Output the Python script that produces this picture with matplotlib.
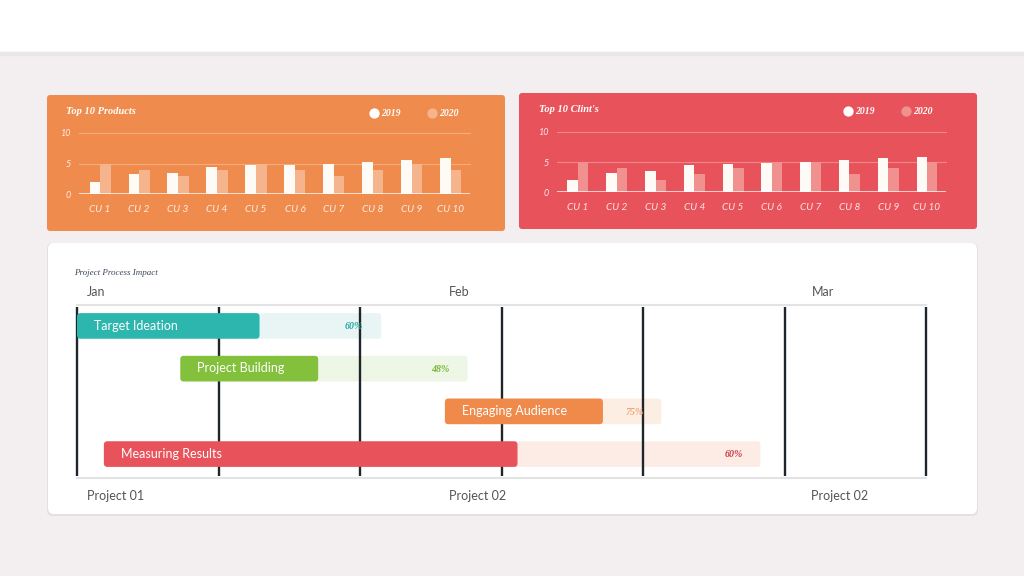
import numpy as np
import matplotlib
matplotlib.use('Agg')
import matplotlib.pyplot as plt
from matplotlib.patches import FancyBboxPatch, Rectangle

# Dữ liệu biểu đồ cột
categories = ['CU 1', 'CU 2', 'CU 3', 'CU 4', 'CU 5', 'CU 6', 'CU 7', 'CU 8', 'CU 9', 'CU 10']
products_2019 = [2.0, 3.2, 3.5, 4.5, 4.7, 4.8, 5.0, 5.3, 5.6, 5.9]
products_2020 = [5, 4, 3, 4, 5, 4, 3, 4, 5, 4]
clients_2019 = [2.0, 3.2, 3.5, 4.5, 4.7, 4.8, 5.0, 5.3, 5.6, 5.9]
clients_2020 = [5, 4, 2, 3, 4, 5, 5, 3, 4, 5]
y_ticks = [0, 5, 10]

# Dữ liệu Gantt
tasks = ['Target Ideation', 'Project Building', 'Engaging Audience', 'Measuring Results']
task_start = [0.0, 0.73, 2.60, 0.19]
task_length = [2.15, 2.03, 1.53, 4.64]
task_done = [0.60, 0.48, 0.73, 0.63]
task_pct_labels = ['60%', '48%', '75%', '60%']
task_colors = ['#2cb6ae', '#83c03b', '#f08a4b', '#e8535b']
task_light = ['#e9f5f5', '#eef6e6', '#fdeee4', '#fdece6']
pct_colors = ['#2aa9a3', '#7ab83a', '#f2a57a', '#c4404a']
months = ['Jan', 'Feb', 'Mar']
month_pos = [0.07, 2.63, 5.19]
bottom_labels = ['Project 01', 'Project 02', 'Project 02']
grid_x = [0, 1, 2, 3, 4, 5, 6]

W, H = 1024, 576
fig = plt.figure(figsize=(W / 100, H / 100), dpi=100)
fig.patch.set_facecolor('#f3eff0')


def fx(x):
    return x / W


def fy(y):
    return 1 - y / H


# Nền (toạ độ pixel)
bg = fig.add_axes([0, 0, 1, 1])
bg.set_xlim(0, W)
bg.set_ylim(H, 0)
bg.axis('off')
bg.add_patch(Rectangle((0, 0), W, 52, color='white', zorder=1))
bg.add_patch(Rectangle((0, 52), W, 3, color='#ebe7e8', zorder=1))
bg.add_patch(FancyBboxPatch((47, 95), 458, 136, boxstyle='round,pad=0,rounding_size=3',
                            fc='#ef8b4c', ec='none'))
bg.add_patch(FancyBboxPatch((519, 93), 458, 136, boxstyle='round,pad=0,rounding_size=3',
                            fc='#e8535b', ec='none'))
bg.add_patch(FancyBboxPatch((47, 243), 931, 273, boxstyle='round,pad=0,rounding_size=6',
                            fc='#e4e0e1', ec='none'))
bg.add_patch(FancyBboxPatch((48, 243), 929, 271, boxstyle='round,pad=0,rounding_size=6',
                            fc='white', ec='none'))


def bar_panel(rect, v2019, v2020, light, title, title_xy, leg_x, leg_y):
    ax = fig.add_axes(rect)
    x = np.arange(len(categories))
    w = 0.27
    ax.bar(x - w / 2, v2019, width=w, color='#fefbf6', zorder=3)
    ax.bar(x + w / 2, v2020, width=w, color=light, zorder=3)
    ax.set_xlim(-0.54, 9.49)
    ax.set_ylim(0, 10)
    ax.set_facecolor('none')
    for s in ax.spines.values():
        s.set_visible(False)
    for v in y_ticks[1:]:
        ax.axhline(v, color='white', alpha=0.3, lw=0.8, zorder=1, clip_on=False)
    ax.axhline(0, color='white', alpha=0.85, lw=1.2, zorder=4)
    ax.set_yticks(y_ticks)
    ax.set_yticklabels(y_ticks, fontsize=6.5, style='italic', color='white', alpha=0.85,
                       family='Lato')
    ax.set_xticks(x)
    ax.set_xticklabels(categories, fontsize=7.2, style='italic', color='white', alpha=0.85,
                       family='Lato')
    ax.tick_params(length=0, axis='y', pad=6)
    ax.tick_params(length=0, axis='x', pad=8)
    fig.text(fx(title_xy[0]), fy(title_xy[1]), title, fontsize=7.5, color='white',
             family='Liberation Serif', weight='bold', style='italic', va='center')
    for i, (lab, col) in enumerate(zip(['2019', '2020'], ['white', light])):
        cx = leg_x + i * 58
        bg.scatter([cx], [leg_y], s=55, color=col, zorder=5, linewidths=0)
        bg.text(cx + 7, leg_y, lab, fontsize=7, color='white', family='Liberation Serif',
                weight='bold', style='italic', va='center')
    return ax


bar_panel([fx(79), fy(194), (470 - 79) / W, 61 / H], products_2019, products_2020,
          '#f5b48b', 'Top 10 Products', (66, 111), 374, 113)
bar_panel([fx(557), fy(192.3), (946 - 557) / W, 60.6 / H], clients_2019, clients_2020,
          '#f0908f', "Top 10 Clint's", (539, 110), 848, 111)

# Biểu đồ Gantt
gx = fig.add_axes([fx(77), fy(478), (926 - 77) / W, (478 - 305) / H])
gx.set_xlim(0, 6)
gx.set_ylim(3.56, -0.49)
gx.set_facecolor('none')
gx.axis('off')
gx.axhline(-0.49, color='#e3e3e3', lw=1.5, clip_on=False, zorder=1)
gx.axhline(3.56, color='#e3e3e3', lw=1.5, clip_on=False, zorder=1)
gx.vlines(grid_x, -0.45, 3.52, color='#1f262b', lw=1.7, zorder=3, clip_on=False)

bh = 0.6
asp = (4.05 / 173) / (6 / 849)
for i, t in enumerate(tasks):
    s, L, d = task_start[i], task_length[i], task_done[i]
    gx.add_patch(FancyBboxPatch((s, i - bh / 2), L, bh,
                                boxstyle='round,pad=0,rounding_size=0.02',
                                mutation_aspect=asp, fc=task_light[i], ec='none', zorder=2))
    gx.add_patch(FancyBboxPatch((s, i - bh / 2), L * d, bh,
                                boxstyle='round,pad=0,rounding_size=0.025',
                                mutation_aspect=asp, fc=task_colors[i], ec='none', zorder=4))
    gx.text(s + 0.12, i - 0.01, t, color='white', fontsize=9, va='center', ha='left',
            family='Lato', zorder=5)
    gx.text(s + L - 0.19, i + 0.02, task_pct_labels[i], color=pct_colors[i], fontsize=7.2,
            va='center', ha='center', family='Liberation Serif', style='italic',
            weight='bold', zorder=5)

for m, p in zip(months, month_pos):
    gx.text(p, -0.79, m, fontsize=9, color='#555555', va='center', ha='left', family='Lato')
for b, p in zip(bottom_labels, month_pos):
    gx.text(p, 3.99, b, fontsize=9, color='#555555', va='center', ha='left', family='Lato')

fig.text(fx(74), fy(273), 'Project Process Impact', fontsize=6.5, color='#3d4a5c',
         family='Liberation Serif', style='italic', va='center')

fig.savefig('out.png', dpi=100, facecolor=fig.get_facecolor())
